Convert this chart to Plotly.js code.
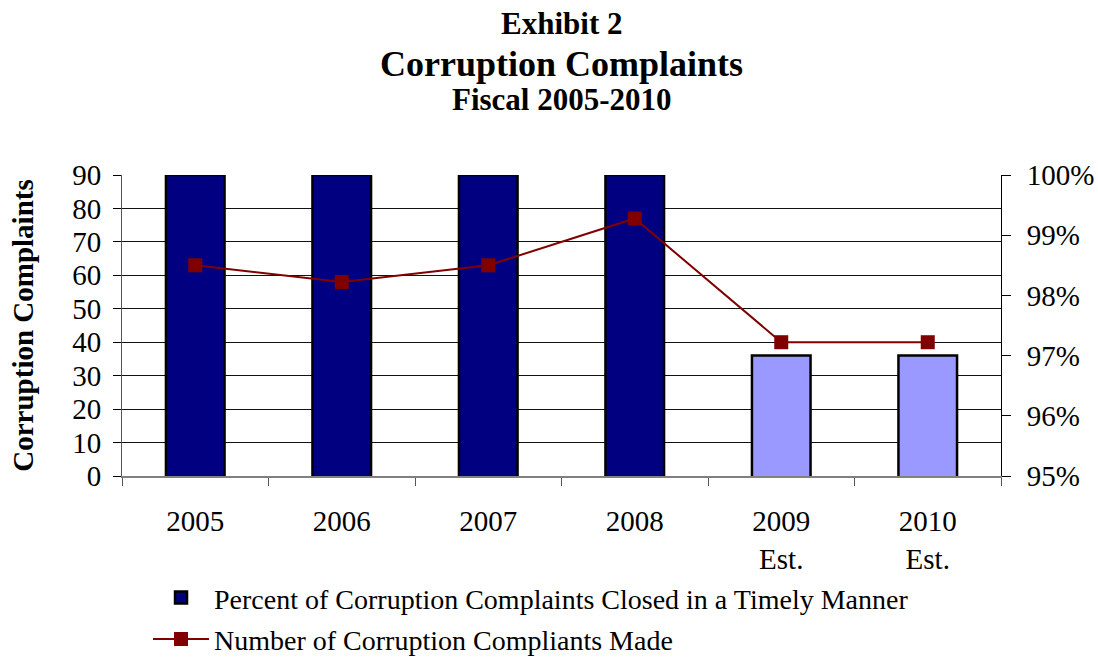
<!DOCTYPE html>
<html>
<head>
<meta charset="utf-8">
<script src="https://cdn.plot.ly/plotly-3.0.1.min.js"></script>
<style>html,body{margin:0;padding:0;background:#fff;}#chart{width:1098px;height:660px;}</style>
</head>
<body>
<div id="chart"></div>
<script>
const categories = ["2005", "2006", "2007", "2008", "2009<br>Est.", "2010<br>Est."];
const percentClosed = [100, 100, 100, 100, 97, 97];
const complaintsMade = [63, 58, 63, 77, 40, 40];
const barColors = ["#000080", "#000080", "#000080", "#000080", "#9999FF", "#9999FF"];
const leftTicks = [0, 10, 20, 30, 40, 50, 60, 70, 80, 90];
const rightTicks = [95, 96, 97, 98, 99, 100];

const font = "Liberation Serif";

const bars = {
  type: "bar",
  x: categories,
  y: percentClosed,
  yaxis: "y",
  name: "Percent of Corruption Complaints Closed in a Timely Manner",
  legendgroup: "a",
  marker: {color: barColors, line: {color: "#000000", width: 2.5}},
  width: 0.4
};
const line = {
  type: "scatter",
  mode: "lines+markers",
  x: categories,
  y: complaintsMade,
  yaxis: "y2",
  name: "Number of Corruption Compliants Made",
  legendgroup: "b",
  line: {color: "#800000", width: 2},
  marker: {symbol: "square", size: 14, color: "#800000"}
};

const layout = {
  width: 1098, height: 660,
  margin: {l: 122, r: 97, t: 175, b: 184, autoexpand: false},
  paper_bgcolor: "#fff", plot_bgcolor: "#fff",
  font: {family: font, color: "#000", size: 29},
  title: {
    text: "<b>Corruption Complaints</b>",
    x: 0.5, xref: "paper", xanchor: "center",
    y: 0.904, yref: "container", yanchor: "middle",
    font: {family: font, size: 36, color: "#000"}
  },
  annotations: [
    {text: "<b>Exhibit 2</b>", xref: "paper", yref: "paper", x: 0.5, y: 1.502,
     xanchor: "center", yanchor: "middle", showarrow: false,
     font: {family: font, size: 31, color: "#000"}},
    {text: "<b>Fiscal 2005-2010</b>", xref: "paper", yref: "paper", x: 0.5, y: 1.252,
     xanchor: "center", yanchor: "middle", showarrow: false,
     font: {family: font, size: 31, color: "#000"}}
  ],
  showlegend: true,
  legend: {
    x: 0.0296, xanchor: "left", y: 0.132, yref: "container", yanchor: "top",
    orientation: "v", traceorder: "grouped",
    font: {family: font, size: 28, color: "#000"},
    itemwidth: 56, tracegroupgap: 2,
    bgcolor: "rgba(0,0,0,0)"
  },
  xaxis: {
    type: "category",
    automargin: false,
    tickson: "boundaries",
    ticks: "outside", ticklen: 8, tickcolor: "#555",
    ticklabelstandoff: 18,
    showline: true, linecolor: "#808080", linewidth: 2,
    tickfont: {family: font, size: 29, color: "#000"},
    showgrid: false, zeroline: false
  },
  yaxis: {
    side: "right",
    automargin: false,
    range: [95, 100],
    tickvals: rightTicks,
    ticktext: rightTicks.map(v => v + "%"),
    ticks: "outside", ticklen: 9, tickcolor: "#000",
    ticklabelstandoff: 10,
    showline: true, linecolor: "#000", linewidth: 1,
    showgrid: false, zeroline: false,
    tickfont: {family: font, size: 29, color: "#000"}
  },
  yaxis2: {
    overlaying: "y",
    side: "left",
    automargin: false,
    range: [0, 90],
    tickvals: leftTicks,
    ticks: "outside", ticklen: 8, tickcolor: "#000",
    ticklabelstandoff: 6,
    showline: true, linecolor: "#555", linewidth: 1,
    showgrid: true, gridcolor: "#111", gridwidth: 1,
    zeroline: false,
    tickfont: {family: font, size: 29, color: "#000"},
    title: {text: "<b>Corruption Complaints</b>", font: {family: font, size: 29, color: "#000"}, standoff: 30}
  }
};

Plotly.newPlot("chart", [bars, line], layout, {displayModeBar: false, staticPlot: true});
</script>
</body>
</html>
